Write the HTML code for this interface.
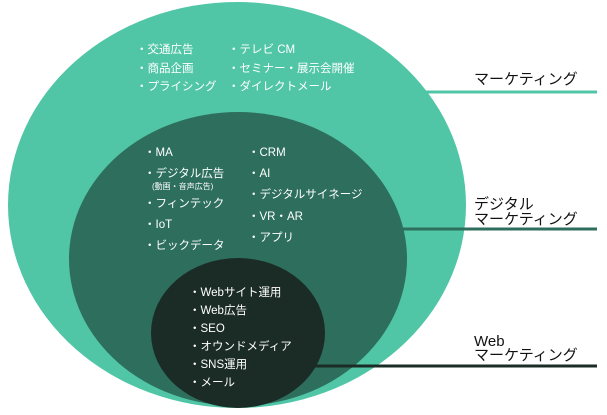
<!DOCTYPE html>
<html><head><meta charset="utf-8"><style>
html,body{margin:0;padding:0;background:#fff;}
svg{display:block;}
text{font-family:"Liberation Sans","Noto Sans CJK JP",sans-serif;}
.w{fill:#fff;font-size:11.5px;}
.s{fill:#fff;font-size:8px;}
.l{fill:#111;font-size:15px;}
</style></head><body>
<svg width="607" height="415" viewBox="0 0 607 415" xmlns="http://www.w3.org/2000/svg">
<ellipse cx="237" cy="205" rx="229" ry="203" fill="#50c6a6"/>
<line x1="420" y1="92" x2="597" y2="92" stroke="#50c6a6" stroke-width="3"/>
<ellipse cx="238" cy="259" rx="169" ry="147" fill="#2d6e5c"/>
<line x1="400" y1="229" x2="597" y2="229" stroke="#2d6e5c" stroke-width="3"/>
<ellipse cx="238" cy="333" rx="87" ry="75" fill="#1b2b26"/>
<line x1="315" y1="366" x2="597" y2="366" stroke="#1b2b26" stroke-width="3"/>

<g class="w">
<text x="136" y="53" class="w">・交通広告</text>
<text x="136" y="72" class="w">・商品企画</text>
<text x="136" y="90" class="w">・プライシング</text>
<text x="228" y="53" class="w">・テレビ CM</text>
<text x="228" y="72" class="w">・セミナー・展示会開催</text>
<text x="228" y="90" class="w">・ダイレクトメール</text>

<text x="144" y="156" class="w">・MA</text>
<text x="144" y="177" class="w">・デジタル広告</text>
<text x="152" y="189" class="s">(動画・音声広告)</text>
<text x="144" y="207" class="w">・フィンテック</text>
<text x="144" y="228" class="w">・IoT</text>
<text x="144" y="249" class="w">・ビックデータ</text>
<text x="248" y="156" class="w">・CRM</text>
<text x="248" y="177" class="w">・AI</text>
<text x="248" y="198" class="w">・デジタルサイネージ</text>
<text x="248" y="220" class="w">・VR・AR</text>
<text x="248" y="241" class="w">・アプリ</text>

<text x="189" y="296" class="w">・Webサイト運用</text>
<text x="189" y="314" class="w">・Web広告</text>
<text x="189" y="332" class="w">・SEO</text>
<text x="189" y="350" class="w">・オウンドメディア</text>
<text x="189" y="368" class="w">・SNS運用</text>
<text x="189" y="386" class="w">・メール</text>
</g>

<text x="474" y="84" class="l">マーケティング</text>
<text x="474" y="209" class="l">デジタル</text>
<text x="474" y="224" class="l">マーケティング</text>
<text x="474" y="346" class="l">Web</text>
<text x="474" y="360" class="l">マーケティング</text>
</svg>
</body></html>
